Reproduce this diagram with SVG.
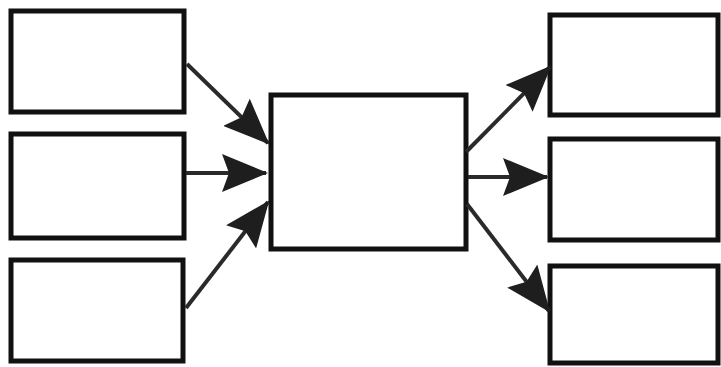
<svg xmlns="http://www.w3.org/2000/svg" width="721" height="367" viewBox="0 0 721 367">
<style>
.box{fill:#fff;stroke:#111;stroke-width:5}
.conn{stroke:#2a2a2a;stroke-width:4;fill:none;marker-end:url(#ah)}
</style>
<defs>
<marker id="ah" markerUnits="userSpaceOnUse" markerWidth="46" markerHeight="38" viewBox="0 0 46 38" refX="44" refY="19" orient="auto">
<path d="M0,0 L46,19 L0,38 L7,19 z" fill="#1e1e1e"/>
</marker>
</defs>
<rect width="721" height="367" fill="#fff"/>
<g id="in1"><rect class="box" x="11" y="11" width="173" height="101"/></g>
<g id="in2"><rect class="box" x="11" y="134" width="173" height="104"/></g>
<g id="in3"><rect class="box" x="11" y="260" width="172" height="101"/></g>
<g id="center"><rect class="box" x="271" y="95" width="195" height="154"/></g>
<g id="out1"><rect class="box" x="550" y="15" width="168" height="100"/></g>
<g id="out2"><rect class="box" x="550" y="139" width="168" height="101"/></g>
<g id="out3"><rect class="box" x="550" y="266" width="168" height="97"/></g>
<g id="connectors">
<line class="conn" x1="187" y1="64" x2="268" y2="143"/>
<line class="conn" x1="186" y1="173" x2="266" y2="173"/>
<line class="conn" x1="186" y1="308" x2="268" y2="202"/>
<line class="conn" x1="466" y1="152" x2="550" y2="67"/>
<line class="conn" x1="468" y1="177" x2="547" y2="177"/>
<line class="conn" x1="467" y1="204" x2="549" y2="311"/>
</g>
</svg>
